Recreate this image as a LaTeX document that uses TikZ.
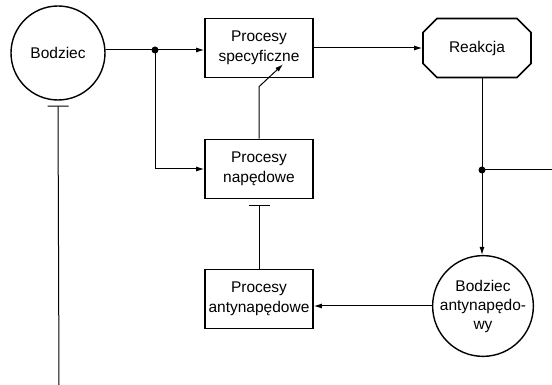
\documentclass[tikz,border=0pt]{standalone}
\usepackage{fontspec}
\setmainfont{Liberation Sans}
\usetikzlibrary{arrows.meta,shapes.misc}

\begin{document}
\begin{tikzpicture}[x=1pt,y=1pt,
  box/.style={draw,line width=1.6pt,minimum width=108pt,minimum height=59pt,align=center,font=\fontsize{15.5}{20}\selectfont},
  circ/.style={draw,circle,line width=1.4pt,inner sep=0pt,align=center,font=\fontsize{15.5}{19}\selectfont},
  conn/.style={line width=1pt,-{Latex[length=8pt,width=5pt]}},
  stopper/.style={line width=1pt,{Bar[width=21pt]}-}]

\useasboundingbox (0,0) rectangle (552,385);

% bodzce
\node[circ,minimum size=94pt] (bodz) at (58,332) {Bodziec};
\node[circ,minimum size=92pt] (bant) at (483,79) {Bodziec\\antynapędo-\\wy};

% procesy
\node[box] (spec) at (259,337) {Procesy\\specyficzne};
\node[box] (nap) at (259,216) {Procesy\\napędowe};
\node[box] (anty) at (259,86) {Procesy\\antynapędowe};
\node[box,chamfered rectangle,chamfered rectangle xsep=15pt] (reak) at (477,337) {Reakcja};

\coordinate (split1) at (155,335);
\coordinate (split2) at (482,215);
\coordinate (rend) at (552,215);
\coordinate (bend) at (59,0);

\fill (split1) circle (3.5);
\fill (split2) circle (3.5);

\draw[line width=1pt] (bodz.east |- split1) -- (split1);
\draw[conn] (split1) -- (split1 -| spec.west);
\draw[conn] (split1) |- (nap.west);
\draw[conn] (spec.east |- reak.west) -- (reak.west);
\draw[line width=1pt] (split2 |- reak.south) -- (split2) -- (rend);
\draw[conn] (split2) -- (split2 |- bant.north);
\draw[conn] (bant.west) -- (bant.west -| anty.east);
\draw[conn] (nap.north) -- ++(0,52) -- ([xshift=24pt,yshift=14pt]spec.south);
\draw[stopper] ([yshift=-6pt]nap.south) -- (anty.north);
\draw[stopper] ([yshift=-5pt]bodz.south) -- (bend);

\end{tikzpicture}
\end{document}
